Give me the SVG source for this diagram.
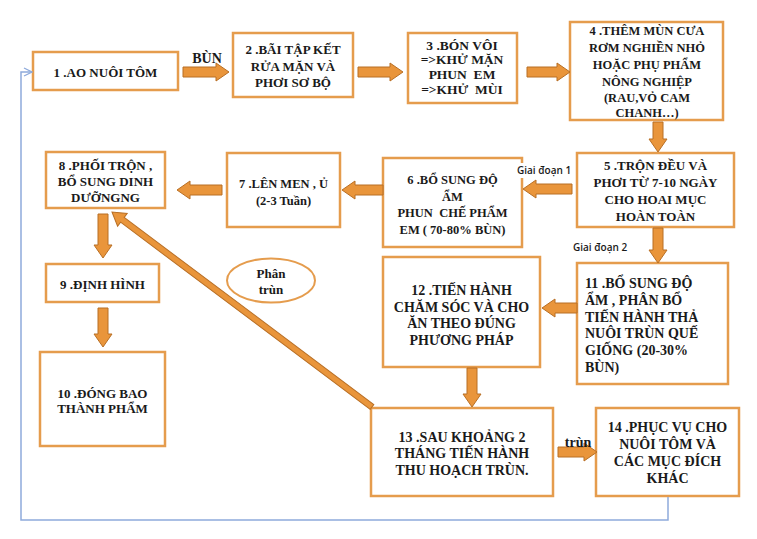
<svg xmlns="http://www.w3.org/2000/svg" width="757" height="539" viewBox="0 0 757 539">
<defs>
<style>
.box{fill:#fff;stroke:#e59c4d;stroke-width:2.5}
.t{font-family:"Liberation Serif","Times New Roman",serif;font-weight:bold;fill:#1a1a1a;text-anchor:middle}
.s{font-family:"Open Sans","Noto Sans",sans-serif;font-weight:600;font-size:10px;fill:#1a1a1a}
.ar{fill:#e9953b;stroke:#b86f25;stroke-width:1}
.blue{fill:none;stroke:#8eaadb;stroke-width:1.5}
</style>
<marker id="open" viewBox="0 0 10 10" refX="9" refY="5" markerWidth="10" markerHeight="10" markerUnits="userSpaceOnUse" orient="auto">
<path d="M1,1 L9,5 L1,9" fill="none" stroke="#8eaadb" stroke-width="1.3"/>
</marker>
</defs>
<rect width="757" height="539" fill="#fff"/>
<g id="n1"><rect class="box" x="33" y="52" width="145" height="38"/>
<text class="t" x="105.5" y="77" font-size="13">1 .AO NUÔI TÔM</text></g>
<g id="n2"><rect class="box" x="233" y="33" width="120" height="64"/>
<text class="t" x="293" y="54" font-size="13">2 .BÃI TẬP KẾT</text>
<text class="t" x="293" y="71" font-size="13">RỬA MẶN VÀ</text>
<text class="t" x="293" y="87" font-size="13">PHƠI SƠ BỘ</text></g>
<g id="n3"><rect class="box" x="408" y="33" width="109" height="70"/>
<text class="t" x="462" y="50" font-size="13.5">3 .BÓN VÔI</text>
<text class="t" x="462" y="64" font-size="13.5">=&gt;KHỬ MẶN</text>
<text class="t" x="462" y="79" font-size="13.5" xml:space="preserve">PHUN  EM</text>
<text class="t" x="462" y="94" font-size="13.5" xml:space="preserve">=&gt;KHỬ  MÙI</text></g>
<g id="n4"><rect class="box" x="570" y="22" width="153" height="98"/>
<text class="t" x="647" y="35" font-size="12.5">4 .THÊM MÙN CƯA</text>
<text class="t" x="647" y="52" font-size="12.5">RƠM NGHIỀN NHỎ</text>
<text class="t" x="647" y="69" font-size="12.5">HOẶC PHỤ PHẨM</text>
<text class="t" x="647" y="86" font-size="12.5">NÔNG NGHIỆP</text>
<text class="t" x="647" y="102" font-size="12.5">(RAU,VỎ CAM</text>
<text class="t" x="647" y="117" font-size="12.5">CHANH…)</text></g>
<g id="n5"><rect class="box" x="577" y="153" width="157" height="74"/>
<text class="t" x="655.5" y="170" font-size="13">5 .TRỘN ĐỀU VÀ</text>
<text class="t" x="655.5" y="187" font-size="13">PHƠI TỪ 7-10 NGÀY</text>
<text class="t" x="655.5" y="204" font-size="13">CHO HOAI MỤC</text>
<text class="t" x="655.5" y="221" font-size="13">HOÀN TOÀN</text></g>
<g id="n6"><rect class="box" x="383" y="158" width="139" height="89"/>
<text class="t" x="452.5" y="184" font-size="12.5">6 .BỔ SUNG ĐỘ</text>
<text class="t" x="452.5" y="201" font-size="12.5">ẨM</text>
<text class="t" x="452.5" y="217" font-size="12.5" xml:space="preserve">PHUN  CHẾ PHẨM</text>
<text class="t" x="452.5" y="234" font-size="12.5">EM ( 70-80% BÙN)</text></g>
<g id="n7"><rect class="box" x="227" y="153" width="113" height="74"/>
<text class="t" x="283.5" y="188" font-size="12.5">7 .LÊN MEN , Ủ</text>
<text class="t" x="283.5" y="205" font-size="12.5">(2-3 Tuần)</text></g>
<g id="n8"><rect class="box" x="46" y="152" width="119" height="56"/>
<text class="t" x="105.5" y="170" font-size="13">8 .PHỐI TRỘN ,</text>
<text class="t" x="105.5" y="186" font-size="13">BỔ SUNG DINH</text>
<text class="t" x="105.5" y="202" font-size="13">DƯỠNGNG</text></g>
<g id="n9"><rect class="box" x="46" y="264" width="113" height="38"/>
<text class="t" x="102.5" y="289" font-size="13">9 .ĐỊNH HÌNH</text></g>
<g id="n10"><rect class="box" x="40" y="352" width="125" height="94"/>
<text class="t" x="102.5" y="398" font-size="13">10 .ĐÓNG BAO</text>
<text class="t" x="102.5" y="413" font-size="13">THÀNH PHẨM</text></g>
<g id="n_phan"><ellipse cx="271" cy="280.5" rx="44" ry="22" fill="#fff" stroke="#e59c4d" stroke-width="2"/>
<text class="t" x="271" y="278" font-size="13">Phân</text>
<text class="t" x="271" y="294" font-size="13">trùn</text></g>
<g id="n11"><rect class="box" x="577" y="263" width="151" height="121"/>
<text class="t" x="585" y="288" font-size="14" style="text-anchor:start">11 .BỔ SUNG ĐỘ</text>
<text class="t" x="585" y="305" font-size="14" style="text-anchor:start">ẨM , PHÂN BỔ</text>
<text class="t" x="585" y="322" font-size="14" style="text-anchor:start">TIẾN HÀNH THẢ</text>
<text class="t" x="585" y="338" font-size="14" style="text-anchor:start">NUÔI TRÙN QUẾ</text>
<text class="t" x="585" y="355" font-size="14" style="text-anchor:start">GIỐNG (20-30%</text>
<text class="t" x="585" y="372" font-size="14" style="text-anchor:start">BÙN)</text></g>
<g id="n12"><rect class="box" x="383" y="257" width="157" height="110"/>
<text class="t" x="461.5" y="295" font-size="14">12 .TIẾN HÀNH</text>
<text class="t" x="461.5" y="312" font-size="14">CHĂM SÓC VÀ CHO</text>
<text class="t" x="461.5" y="328" font-size="14">ĂN THEO ĐÚNG</text>
<text class="t" x="461.5" y="345" font-size="14">PHƯƠNG PHÁP</text></g>
<g id="n13"><rect class="box" x="371" y="408" width="182" height="88"/>
<text class="t" x="462" y="442" font-size="14">13 .SAU KHOẢNG 2</text>
<text class="t" x="462" y="458" font-size="14">THÁNG TIẾN HÀNH</text>
<text class="t" x="462" y="475" font-size="14">THU HOẠCH TRÙN.</text></g>
<g id="n14"><rect class="box" x="596" y="408" width="143" height="88"/>
<text class="t" x="667.5" y="432" font-size="14">14 .PHỤC VỤ CHO</text>
<text class="t" x="667.5" y="449" font-size="14">NUÔI TÔM VÀ</text>
<text class="t" x="667.5" y="466" font-size="14">CÁC MỤC ĐÍCH</text>
<text class="t" x="667.5" y="483" font-size="14">KHÁC</text></g>
<g id="connectors">
<polyline class="blue" points="668,497 668,520 21,520 21,72 32,72" marker-end="url(#open)"/>
<polygon class="ar" points="183,67 216,67 216,63 229,72 216,81 216,77 183,77"/>
<polygon class="ar" points="358,67 390,67 390,63 403,72 390,81 390,77 358,77"/>
<polygon class="ar" points="527,67 557,67 557,63 570,72 557,81 557,77 527,77"/>
<polygon class="ar" points="558,447 584,447 584,443 597,452 584,461 584,457 558,457"/>
<polygon class="ar" points="572,184 536,184 536,180 523,189 536,198 536,194 572,194"/>
<polygon class="ar" points="383,185 355,185 355,181 342,190 355,199 355,195 383,195"/>
<polygon class="ar" points="222,185 190,185 190,181 177,190 190,199 190,195 222,195"/>
<polygon class="ar" points="577,303 555,303 555,299 542,308 555,317 555,313 577,313"/>
<polygon class="ar" points="653,122 663,122 663,139 667,139 658,152 649,139 653,139"/>
<polygon class="ar" points="653,228 663,228 663,250 667,250 658,263 649,250 653,250"/>
<polygon class="ar" points="98,214 108,214 108,245 112,245 103,258 94,245 98,245"/>
<polygon class="ar" points="98,308 108,308 108,334 112,334 103,347 94,334 98,334"/>
<polygon class="ar" points="467,368 477,368 477,394 481,394 472,407 463,394 467,394"/>
<polygon class="ar" transform="translate(372,407) rotate(216.87)" points="0,-3 312,-3 312,-8 325,0 312,8 312,3 0,3"/>
<text class="t" x="207" y="63" font-size="14">BÙN</text>
<text class="t" x="578" y="447" font-size="14">trùn</text>
<rect x="516" y="163" width="55" height="15" fill="#fff"/>
<text class="s" x="517" y="174">Giai đoạn 1</text>
<text class="s" x="573" y="251">Giai đoạn 2</text>
</g>
</svg>
